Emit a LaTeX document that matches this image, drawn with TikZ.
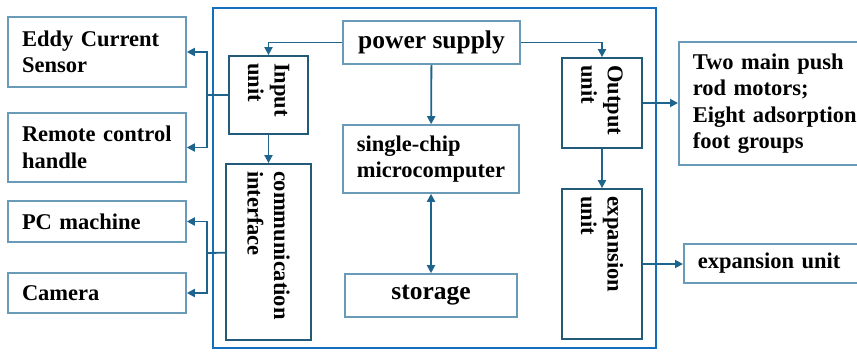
\documentclass[tikz,border=0pt]{standalone}
\usepackage{fontspec}
\setmainfont{Liberation Serif}
\usetikzlibrary{arrows.meta}
\definecolor{frameblue}{RGB}{20,110,190}
\definecolor{unitblue}{RGB}{35,90,120}
\definecolor{sideblue}{RGB}{105,155,185}
\definecolor{linkblue}{RGB}{30,100,140}
\tikzset{
    base/.style={draw, rectangle, align=left, font=\fontsize{22.5}{26.5}\selectfont\bfseries, text=black, inner ysep=0pt},
    bigtext/.style={font=\fontsize{25.5}{30}\selectfont\bfseries},
    side/.style={base, draw=sideblue, line width=1.6pt, minimum width=178pt, inner xsep=14pt, text width=150pt},
    block/.style={base, draw=sideblue, line width=1.6pt},
    unit/.style={base, draw=unitblue, line width=1.8pt, rotate=-90, inner xsep=7pt},
    frame/.style={draw=frameblue, line width=2pt, rectangle},
    link/.style={draw=linkblue, line width=1.8pt},
    arrow/.style={link, -{Triangle[length=8pt, width=8pt]}},
    dual/.style={link, {Triangle[length=8pt, width=8pt]}-{Triangle[length=8pt, width=8pt]}}
}

\begin{document}
\begin{tikzpicture}[x=1pt, y=-1pt]
    \useasboundingbox (0,0) rectangle (857,351);

    \node (frame) [frame, minimum width=443pt, minimum height=340pt] at (434.5,178) {};

    \node (power) [block, bigtext, minimum width=177pt, minimum height=43pt] at (431.5,42.5) {power supply};
    \node (chip) [block, minimum width=176pt, minimum height=68pt] at (431,159) {single-chip\\microcomputer};
    \node (storage) [block, bigtext, minimum width=172pt, minimum height=43pt] at (431,295.5) {storage};

    \node (input) [unit, text width=64pt, minimum height=79pt] at (268.5,95) {Input\\unit};
    \node (comm) [unit, text width=162pt, minimum height=85pt] at (268.5,252) {communication\\interface};
    \node (output) [unit, text width=76pt, minimum height=80pt] at (602,103) {Output\\unit};
    \node (expand) [unit, text width=136pt, minimum height=80pt] at (602,264) {expansion\\unit};

    \node (eddy) [side, minimum height=70pt] at (97,52) {Eddy Current\\Sensor};
    \node (remote) [side, minimum height=69pt] at (97,147.5) {Remote control\\handle};
    \node (pc) [side, minimum height=41pt] at (97,221.5) {PC machine};
    \node (camera) [side, minimum height=40pt] at (97,293) {Camera};

    \node (motors) [side, anchor=west, text width=180pt, minimum height=123pt] at (678,103.5) {Two main push\\rod motors;\\Eight adsorption\\foot groups};
    \node (expout) [side, anchor=west, text width=180pt, minimum height=39pt] at (683,263.5) {expansion unit};

    \coordinate (injoin) at (207,95);
    \coordinate (comjoin) at (207,253);

    \draw [arrow] (power.west) -| (input);
    \draw [arrow] (power.east) -| (output);
    \draw [arrow] (power) -- (chip);
    \draw [dual] (chip) -- (storage);
    \draw [arrow] (input) -- (comm);
    \draw [arrow] (output) -- (expand);

    \draw [link] (input) -- (injoin);
    \draw [arrow] (injoin) |- (eddy);
    \draw [arrow] (injoin) |- (remote);
    \draw [link] (comm) -- (comjoin);
    \draw [arrow] (comjoin) |- (pc);
    \draw [arrow] (comjoin) |- (camera);

    \draw [arrow] (output) -- (output -| motors.west);
    \draw [arrow] (expand) -- (expand -| expout.west);
\end{tikzpicture}
\end{document}
